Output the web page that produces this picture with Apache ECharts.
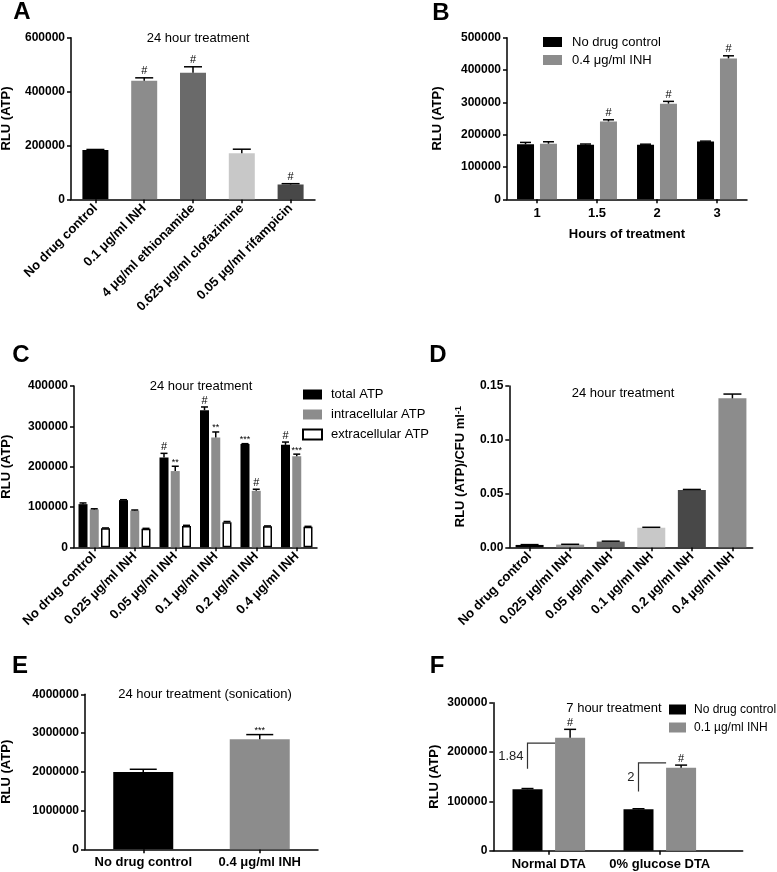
<!DOCTYPE html>
<html><head><meta charset="utf-8">
<script src="https://cdn.jsdelivr.net/npm/echarts@6/dist/echarts.min.js"></script>
<style>html,body{margin:0;padding:0;background:#fff}#c{width:777px;height:872px}</style>
</head><body><div id="c"></div>
<script>
// ---------- DATA ----------
// Panel A
const catsA = ['No drug control', '0.1 \u03bcg/ml INH', '4 \u03bcg/ml ethionamide', '0.625 \u03bcg/ml clofazimine', '0.05 \u03bcg/ml rifampicin'];
const valsA = [183000, 440000, 470000, 171000, 55000];
const errA  = [2000, 11000, 22000, 15000, 3000];
const sigA  = ['', '#', '#', '', '#'];
// Panel B
const catsB = ['1', '1.5', '2', '3'];
const ctrlB = [170000, 169000, 169000, 179000];
const ctrlErrB = [6000, 2000, 1500, 1000];
const inhB = [172000, 241000, 296000, 436000];
const inhErrB = [6000, 5000, 7000, 8000];
const sigInhB = ['', '#', '#', '#'];
// Panel C
const catsC = ['No drug control', '0.025 \u00b5g/ml INH', '0.05 \u00b5g/ml INH', '0.1 \u00b5g/ml INH', '0.2 \u00b5g/ml INH', '0.4 \u00b5g/ml INH'];
const totalC = [107000, 117000, 223000, 340000, 256000, 254000];
const totalErrC = [3000, 1000, 10000, 8000, 1000, 7000];
const intraC = [94000, 91000, 189000, 272000, 140000, 226000];
const intraErrC = [1500, 1500, 12000, 14000, 4000, 5000];
const extraC = [47000, 46000, 53000, 62000, 52000, 51000];
const extraErrC = [1000, 1000, 1500, 2000, 1000, 1000];
const sigTotalC = ['', '', '#', '#', '***', '#'];
const sigIntraC = ['', '', '**', '**', '#', '***'];
// Panel D
const catsD = catsC;
const valsD = [0.0022, 0.0025, 0.0053, 0.0182, 0.0533, 0.1385];
const errD  = [0.0003, 0.0003, 0.0004, 0.0004, 0.0005, 0.004];
// Panel E
const catsE = ['No drug control', '0.4 \u03bcg/ml INH'];
const valsE = [1995000, 2840000];
const errE  = [70000, 120000];
const sigE  = ['', '***'];
// Panel F
const catsF = ['Normal DTA', '0% glucose DTA'];
const ctrlF = [124500, 84000];
const ctrlErrF = [1500, 1000];
const inhF = [229000, 168000];
const inhErrF = [17000, 5500];
const sigInhF = ['#', '#'];
const foldF = ['1.84', '2'];
const bracketLowF = [166000, 120000];
const bracketHighF = [218000, 178000];

// ---------- STYLE ----------
const FONT = "'Liberation Sans', Arial, Helvetica, sans-serif";
const colorsA = ['#000000', '#8c8c8c', '#6a6a6a', '#c8c8c8', '#484848'];
const colorsD = ['#000000', '#999999', '#666666', '#c8c8c8', '#484848', '#8c8c8c'];
const GRAY = '#8c8c8c';

const grids = [
  {left: 71, top: 37.7, width: 244, height: 161.6},
  {left: 507, top: 37.7, width: 240, height: 161.6},
  {left: 74, top: 386, width: 243, height: 161.3},
  {left: 509.3, top: 386, width: 243.4, height: 161.3},
  {left: 85, top: 694.3, width: 233, height: 155},
  {left: 493.3, top: 702.7, width: 222, height: 148},
  {left: 493.3, top: 702.7, width: 249.4, height: 148}
].map(g => Object.assign({outerBoundsMode: 'none', containLabel: false}, g));

const LINE = {color: '#000', width: 1.5};

function yAx(gi, max, interval, name, gap, fmt, richName) {
  const nts = {fontFamily: FONT, fontWeight: 'bold', fontSize: 13, color: '#000'};
  if (richName) nts.rich = richName;
  return {
    type: 'value', gridIndex: gi, min: 0, max: max, interval: interval,
    name: name, nameLocation: 'middle', nameGap: gap, nameRotate: 90, nameMoveOverlap: false,
    nameTextStyle: nts,
    axisLine: {show: true, lineStyle: LINE},
    axisTick: {show: true, length: 4, lineStyle: LINE},
    axisLabel: {fontFamily: FONT, fontWeight: 'bold', fontSize: 12, color: '#000', margin: 6,
      formatter: fmt || (v => String(v))},
    splitLine: {show: false}
  };
}
function xAx(gi, data, o) {
  o = o || {};
  return {
    type: 'category', gridIndex: gi, data: data,
    name: o.name || '', nameLocation: 'middle', nameGap: o.nameGap || 30, nameMoveOverlap: false,
    nameTextStyle: {fontFamily: FONT, fontWeight: 'bold', fontSize: 13, color: '#000', verticalAlign: 'top'},
    axisLine: {show: o.line !== false, onZero: false, lineStyle: LINE},
    axisTick: {show: o.tick !== false, alignWithLabel: true, length: 4, lineStyle: LINE},
    axisLabel: {show: o.label !== false, interval: 0, rotate: o.rotate || 0, fontFamily: FONT, fontWeight: 'bold',
      fontSize: 13, color: '#000', margin: o.margin || 7},
    splitLine: {show: false}
  };
}

function errSeries(gi, means, errs, sigs, n, k, bw, gap, cap) {
  return {
    type: 'custom', xAxisIndex: gi, yAxisIndex: gi, z: 5, silent: true,
    encode: {x: 0, y: 1},
    data: means.map((m, i) => [i, m, errs[i]]),
    renderItem: function (params, api) {
      const i = api.value(0), m = api.value(1), e = api.value(2);
      const base = api.coord([i, m]);
      const total = n * bw + (n - 1) * gap * bw;
      const x = base[0] - total / 2 + bw / 2 + k * bw * (1 + gap);
      const top = api.coord([i, m + e])[1];
      const ch = [
        {type: 'line', shape: {x1: x, y1: base[1], x2: x, y2: top}, style: {stroke: '#000', lineWidth: 1.5}},
        {type: 'line', shape: {x1: x - cap / 2, y1: top, x2: x + cap / 2, y2: top}, style: {stroke: '#000', lineWidth: 1.5}}
      ];
      const s = sigs ? sigs[params.dataIndex] : '';
      if (s) {
        const hash = s === '#';
        ch.push({type: 'text', style: {text: s, x: x, y: hash ? top - 1 : top - 4, align: 'center',
          verticalAlign: hash ? 'bottom' : 'middle', fontSize: hash ? 11 : 9, fontFamily: FONT, fill: '#000'}});
      }
      return {type: 'group', children: ch};
    }
  };
}

function barSeries(gi, name, vals, color, bw, gap, border) {
  const s = {type: 'bar', name: name, xAxisIndex: gi, yAxisIndex: gi, barWidth: bw, barGap: gap,
    data: vals.slice(), itemStyle: {color: color}};
  if (border) s.itemStyle = {color: color, borderColor: '#000', borderWidth: 1.5};
  return s;
}

const xAxes = [
  xAx(0, catsA, {rotate: 45, margin: 7}),
  xAx(1, catsB, {name: 'Hours of treatment', nameGap: 29, margin: 8}),
  xAx(2, catsC, {rotate: 45, margin: 7}),
  xAx(3, catsD, {rotate: 45, margin: 7}),
  xAx(4, catsE, {margin: 7}),
  xAx(5, catsF, {line: false, margin: 7}),
  xAx(6, [''], {tick: false, label: false})
];
const yAxes = [
  yAx(0, 600000, 200000, 'RLU (ATP)', 58),
  yAx(1, 500000, 100000, 'RLU (ATP)', 63),
  yAx(2, 400000, 100000, 'RLU (ATP)', 61),
  yAx(3, 0.15, 0.05, '{a|RLU (ATP)/CFU ml}{b|-1}', 42, v => v.toFixed(2),
    {a: {fontFamily: FONT, fontWeight: 'bold', fontSize: 13, color: '#000'},
     b: {fontFamily: FONT, fontWeight: 'bold', fontSize: 9, color: '#000', verticalAlign: 'top'}}),
  yAx(4, 4000000, 1000000, 'RLU (ATP)', 72),
  yAx(5, 300000, 100000, 'RLU (ATP)', 52),
  {type: 'value', gridIndex: 6, min: 0, max: 1, show: false}
];

const bwF = 30, gapF = 0.42;
const series = [
  // A
  {type: 'bar', name: 'A', xAxisIndex: 0, yAxisIndex: 0, barWidth: 26,
    data: valsA.map((v, i) => ({value: v, itemStyle: {color: colorsA[i]}}))},
  errSeries(0, valsA, errA, sigA, 1, 0, 26, 0, 18),
  // B
  barSeries(1, 'No drug control', ctrlB, '#000', 17, '35%'),
  barSeries(1, '0.4 \u03bcg/ml INH', inhB, GRAY, 17, '35%'),
  errSeries(1, ctrlB, ctrlErrB, null, 2, 0, 17, 0.35, 11),
  errSeries(1, inhB, inhErrB, sigInhB, 2, 1, 17, 0.35, 11),
  // C
  barSeries(2, 'total ATP', totalC, '#000', 9, '25%'),
  barSeries(2, 'intracellular ATP', intraC, GRAY, 9, '25%'),
  barSeries(2, 'extracellular ATP', extraC, '#fff', 9, '25%', true),
  errSeries(2, totalC, totalErrC, sigTotalC, 3, 0, 9, 0.25, 7),
  errSeries(2, intraC, intraErrC, sigIntraC, 3, 1, 9, 0.25, 7),
  errSeries(2, extraC, extraErrC, null, 3, 2, 9, 0.25, 7),
  // D
  {type: 'bar', name: 'D', xAxisIndex: 3, yAxisIndex: 3, barWidth: 28,
    data: valsD.map((v, i) => ({value: v, itemStyle: {color: colorsD[i]}}))},
  errSeries(3, valsD, errD, null, 1, 0, 28, 0, 18),
  // E
  {type: 'bar', name: 'E', xAxisIndex: 4, yAxisIndex: 4, barWidth: 60,
    data: valsE.map((v, i) => ({value: v, itemStyle: {color: i === 0 ? '#000' : GRAY}}))},
  errSeries(4, valsE, errE, sigE, 1, 0, 60, 0, 27),
  // F
  barSeries(5, 'No drug control', ctrlF, '#000', bwF, (gapF * 100) + '%'),
  barSeries(5, '0.1 \u00b5g/ml INH', inhF, GRAY, bwF, (gapF * 100) + '%'),
  errSeries(5, ctrlF, ctrlErrF, null, 2, 0, bwF, gapF, 12),
  errSeries(5, inhF, inhErrF, sigInhF, 2, 1, bwF, gapF, 12),
  {type: 'custom', xAxisIndex: 5, yAxisIndex: 5, z: 6, silent: true, encode: {x: 0, y: 1},
    data: bracketLowF.map((lo, i) => [i, lo, bracketHighF[i]]),
    renderItem: function (params, api) {
      const i = api.value(0), lo = api.value(1), hi = api.value(2);
      const c = api.coord([i, lo]);
      const yh = api.coord([i, hi])[1];
      const total = 2 * bwF + gapF * bwF;
      const x0 = c[0] - total / 2 + bwF / 2;
      const x1 = c[0] - total / 2 + bwF + gapF * bwF;
      return {type: 'group', children: [
        {type: 'polyline', shape: {points: [[x0, c[1]], [x0, yh], [x1, yh]]}, style: {stroke: '#333', lineWidth: 1.2, fill: null}},
        {type: 'text', style: {text: foldF[params.dataIndex], x: x0 - 4, y: (c[1] + yh) / 2, align: 'right', verticalAlign: 'middle',
          fontSize: 13, fontFamily: FONT, fill: '#222'}}
      ]};
    }}
];

function txt(x, y, s, size, bold) {
  return {type: 'text', x: x, y: y, silent: true, style: {text: s, align: 'center', verticalAlign: 'middle',
    fontSize: size, fontWeight: bold ? 'bold' : 'normal', fontFamily: FONT, fill: '#000'}};
}
const graphic = [
  txt(22, 12, 'A', 24, true), txt(441, 13, 'B', 24, true),
  txt(21, 355, 'C', 24, true), txt(438, 355, 'D', 24, true),
  txt(20, 666, 'E', 24, true), txt(437, 666, 'F', 24, true),
  txt(198, 38, '24 hour treatment', 13), txt(201, 386, '24 hour treatment', 13),
  txt(623, 393, '24 hour treatment', 13), txt(205, 694, '24 hour treatment (sonication)', 13),
  txt(614, 708, '7 hour treatment', 13)
];

const legTxt = {fontFamily: FONT, color: '#000'};
const legend = [
  {left: 543, top: 35.5, padding: 0, orient: 'vertical', icon: 'rect', itemWidth: 19, itemHeight: 10, itemGap: 5,
    data: ['No drug control', '0.4 \u03bcg/ml INH'], textStyle: Object.assign({fontSize: 13, padding: [0, 0, 0, 5]}, legTxt), selectedMode: false},
  {left: 302, top: 388, padding: 0, orient: 'vertical', icon: 'rect', itemWidth: 19, itemHeight: 10, itemGap: 7,
    data: ['total ATP', 'intracellular ATP', 'extracellular ATP'], textStyle: Object.assign({fontSize: 13, padding: [0, 0, 0, 4]}, legTxt), selectedMode: false},
  {left: 669, top: 703.5, padding: 0, orient: 'vertical', icon: 'rect', itemWidth: 17, itemHeight: 10, itemGap: 6,
    data: ['No drug control', '0.1 \u00b5g/ml INH'], textStyle: Object.assign({fontSize: 12, padding: [0, 0, 0, 3]}, legTxt), selectedMode: false}
];

const chart = echarts.init(document.getElementById('c'), null, {renderer: 'canvas'});
chart.setOption({
  backgroundColor: '#fff', animation: false,
  textStyle: {fontFamily: FONT},
  grid: grids, xAxis: xAxes, yAxis: yAxes, series: series, legend: legend, graphic: graphic,
  tooltip: {show: false}
});
</script></body></html>
